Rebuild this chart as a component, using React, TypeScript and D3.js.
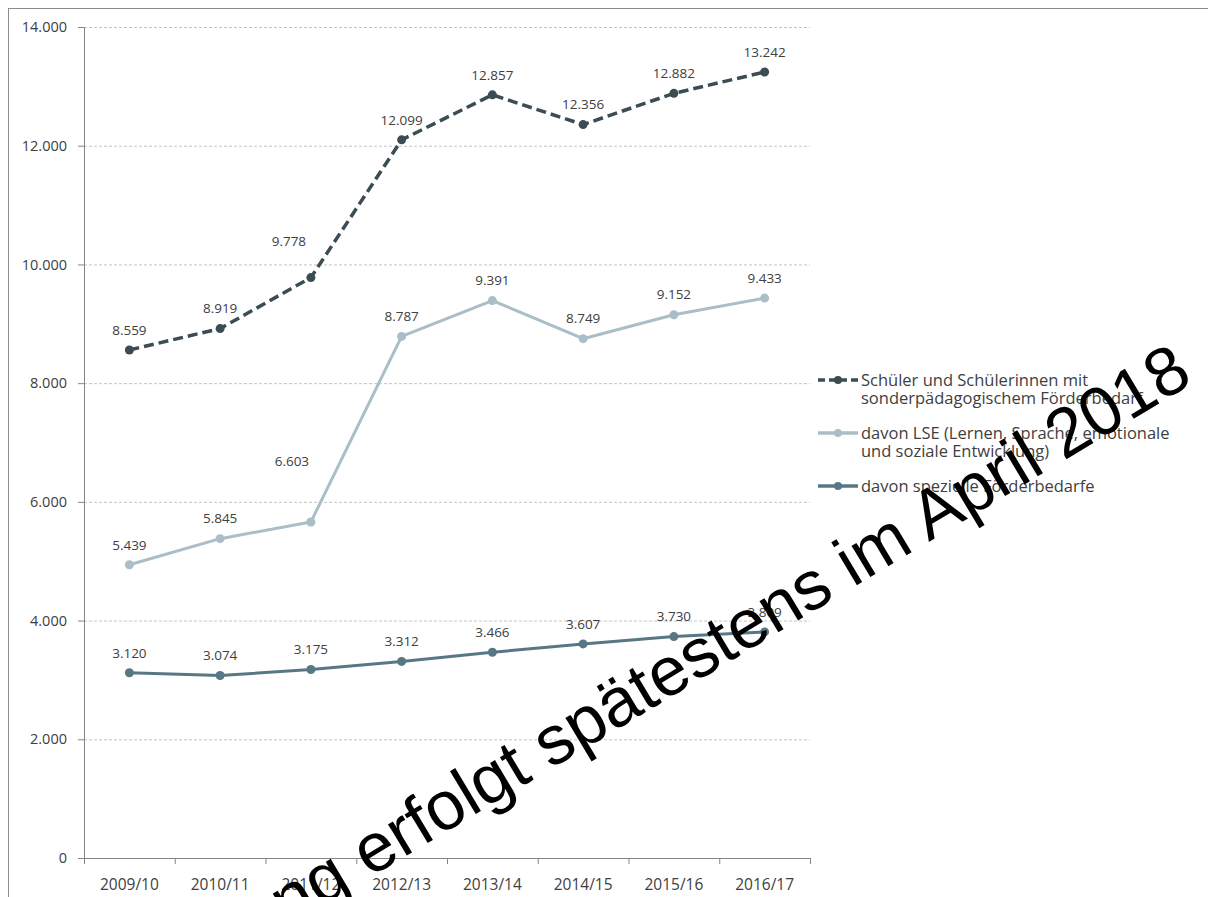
import React from 'react';
import * as d3 from 'd3';

const years = ['2009/10', '2010/11', '2011/12', '2012/13', '2013/14', '2014/15', '2015/16', '2016/17'];

// Schüler mit sonderpädagogischem Förderbedarf
const totalValues = [8559, 8919, 9778, 12099, 12857, 12356, 12882, 13242];
// davon LSE – plotted where the picture draws the points, labels as printed
const lseValues = [4940, 5380, 5660, 8787, 9391, 8749, 9152, 9433];
const lseLabels = ['5.439', '5.845', '6.603', '8.787', '9.391', '8.749', '9.152', '9.433'];
// davon spezielle Förderbedarfe
const specialValues = [3120, 3074, 3175, 3312, 3466, 3607, 3730, 3809];

const yTicks = [0, 2000, 4000, 6000, 8000, 10000, 12000, 14000];

const legendItems = [
  { lines: ['Schüler und Schülerinnen mit', 'sonderpädagogischem Förderbedarf'], color: '#3b4c52', dash: '7,4' },
  { lines: ['davon LSE (Lernen, Sprache, emotionale', 'und soziale Entwicklung)'], color: '#a9bec7', dash: null },
  { lines: ['davon spezielle Förderbedarfe'], color: '#587785', dash: null },
];

const W = 1208;
const H = 897;
const plot = { left: 84, right: 810, top: 27, bottom: 858 };

const fmt = (v: number) => d3.format(',')(v).replace(/,/g, '.');

export default function App() {
  const x = d3.scaleBand<string>().domain(years).range([plot.left, plot.right]);
  const y = d3.scaleLinear().domain([0, 14000]).range([plot.bottom, plot.top]);
  const cx = (d: string) => (x(d) ?? 0) + x.bandwidth() / 2;

  const line = d3
    .line<number>()
    .x((_, i) => cx(years[i]))
    .y((v) => y(v));

  const font = "'Open Sans', 'Noto Sans', sans-serif";
  const textColor = '#404040';

  const series = [
    { values: totalValues, labels: totalValues.map(fmt), color: '#3b4c52', width: 3.5, dash: '10,5', offsets: { 2: [-22, -36] } as Record<number, number[]> },
    { values: lseValues, labels: lseLabels, color: '#a9bec7', width: 3, dash: null, offsets: { 2: [-19, -61] } as Record<number, number[]> },
    { values: specialValues, labels: specialValues.map(fmt), color: '#587785', width: 3, dash: null, offsets: {} as Record<number, number[]> },
  ];

  const boundaries = [...years.map((d) => x(d) ?? 0), plot.right];

  let legendY = 380;
  const legendLayout = legendItems.map((item) => {
    const top = legendY;
    legendY += item.lines.length * 18 + 17;
    return { ...item, top };
  });

  return (
    <div style={{ position: 'absolute', left: 0, top: 0, width: W, height: H, background: '#fff' }}>
      <svg width={W} height={H} style={{ display: 'block' }}>
        <rect x={0} y={0} width={W} height={H} fill="#fff" />
        <rect x={8.5} y={8.5} width={W + 20} height={H + 20} fill="none" stroke="#8c8c8c" strokeWidth={1} />

        {/* gridlines */}
        {yTicks.slice(1).map((t) => (
          <line key={t} x1={plot.left} x2={plot.right} y1={y(t) + 0.5} y2={y(t) + 0.5} stroke="#c4c4c4" strokeDasharray="3,2" strokeWidth={1} />
        ))}

        {/* y axis */}
        <line x1={plot.left + 0.5} x2={plot.left + 0.5} y1={plot.top} y2={plot.bottom} stroke="#868686" />
        {yTicks.map((t) => (
          <g key={t}>
            <line x1={plot.left - 6} x2={plot.left} y1={y(t) + 0.5} y2={y(t) + 0.5} stroke="#868686" />
            <text x={plot.left - 17} y={y(t)} dy="0.35em" textAnchor="end" fontFamily={font} fontSize={14.5} fill={textColor}>
              {fmt(t)}
            </text>
          </g>
        ))}

        {/* x axis */}
        <line x1={plot.left} x2={plot.right} y1={plot.bottom + 0.5} y2={plot.bottom + 0.5} stroke="#868686" />
        {boundaries.map((b, i) => (
          <line key={i} x1={b + 0.5} x2={b + 0.5} y1={plot.bottom} y2={plot.bottom + 6} stroke="#868686" />
        ))}
        {years.map((d) => (
          <text key={d} x={cx(d)} y={plot.bottom + 27} dy="0.35em" textAnchor="middle" fontFamily={font} fontSize={15.5} fill={textColor}>
            {d}
          </text>
        ))}

        {/* series */}
        {series.map((s, si) => (
          <g key={si}>
            <path d={line(s.values) ?? ''} fill="none" stroke={s.color} strokeWidth={s.width} strokeDasharray={s.dash ?? undefined} strokeLinejoin="round" />
            {s.values.map((v, i) => (
              <circle key={i} cx={cx(years[i])} cy={y(v)} r={4.5} fill={s.color} />
            ))}
            {s.values.map((v, i) => {
              const off = s.offsets[i] ?? [0, -20];
              return (
                <text key={'l' + i} x={cx(years[i]) + off[0]} y={y(v) + off[1]} dy="0.35em" textAnchor="middle" fontFamily={font} fontSize={13.5} fill={textColor}>
                  {s.labels[i]}
                </text>
              );
            })}
          </g>
        ))}

        {/* legend */}
        {legendLayout.map((item, i) => (
          <g key={i}>
            <line x1={818} x2={858} y1={item.top} y2={item.top} stroke={item.color} strokeWidth={3.5} strokeDasharray={item.dash ?? undefined} />
            <circle cx={838} cy={item.top} r={4} fill={item.color} />
            {item.lines.map((l, j) => (
              <text key={j} x={861} y={item.top + j * 18} dy="0.35em" fontFamily={font} fontSize={16.5} fill={textColor}>
                {l}
              </text>
            ))}
          </g>
        ))}

        {/* watermark */}
        <text
          transform="translate(1195,382) rotate(-31)"
          textAnchor="end"
          fontFamily="'Liberation Sans', Arial, sans-serif"
          fontSize={69}
          fill="#000"
        >
          Veröffentlichung erfolgt spätestens im April 2018
        </text>
      </svg>
    </div>
  );
}
